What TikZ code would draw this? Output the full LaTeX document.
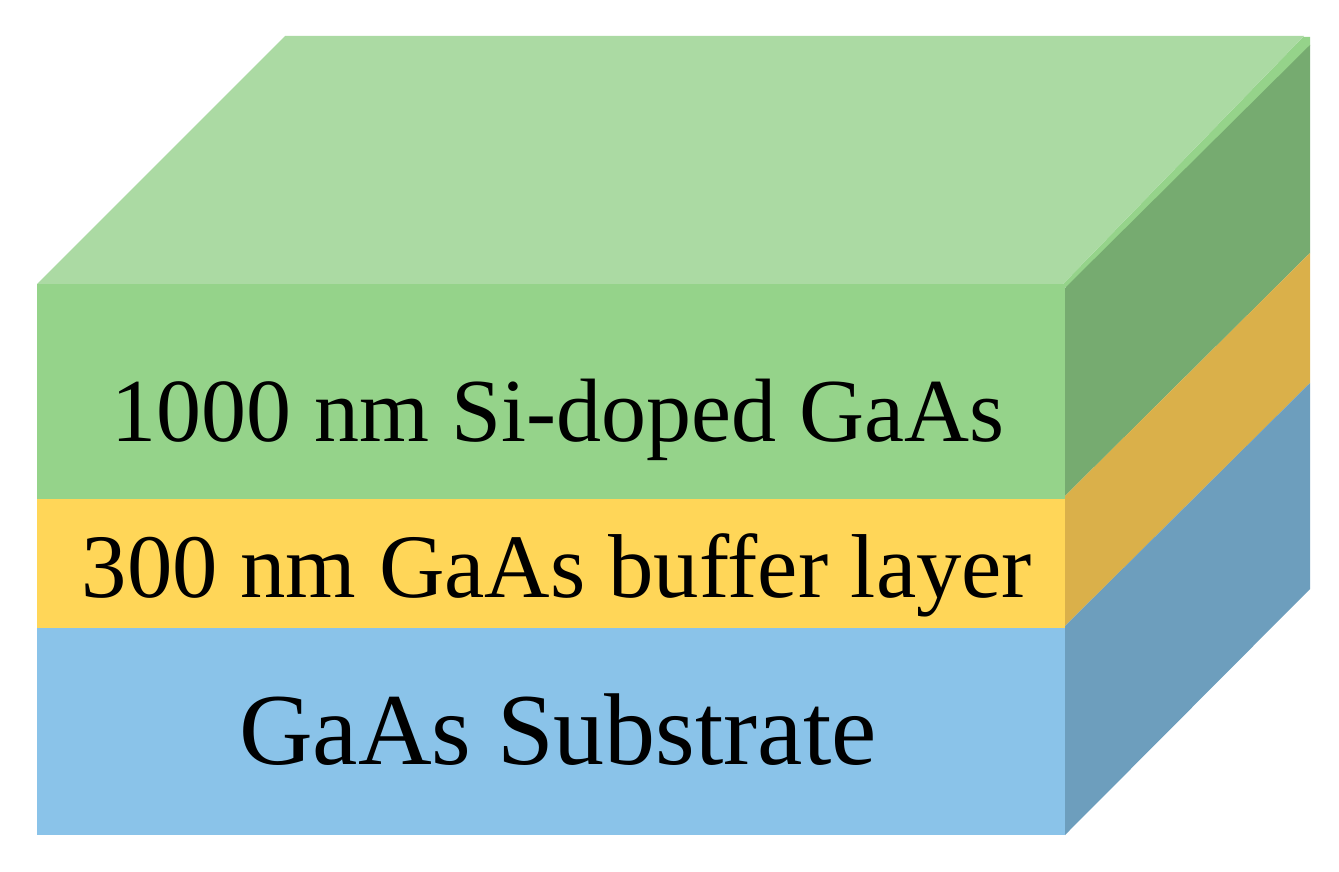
\documentclass[tikz,border=0pt]{standalone}
\usepackage{fontspec}
\setmainfont{Liberation Serif}
\definecolor{topg}{HTML}{ABDAA3}
\definecolor{frontg}{HTML}{95D38A}
\definecolor{sideg}{HTML}{76AB70}
\definecolor{fronty}{HTML}{FFD658}
\definecolor{sidey}{HTML}{DAB04A}
\definecolor{frontb}{HTML}{8AC3E9}
\definecolor{sideb}{HTML}{6D9EBD}
\tikzset{layerlabel/.style={inner sep=0pt,anchor=base,text=black},
  labela/.style={layerlabel,font=\fontsize{90}{90}\selectfont},
  labelb/.style={layerlabel,font=\fontsize{90.7}{91}\selectfont},
  labelc/.style={layerlabel,font=\fontsize{102}{102}\selectfont}}
\begin{document}
\begin{tikzpicture}[x=1pt,y=-1pt]
\useasboundingbox (0,0) rectangle (1339,872);
\fill[white] (0,0) rectangle (1339,872);
\fill[frontg] (1063,284) -- (1303,37) -- (1310,37) -- (1310,46) -- (1066,288) -- cycle;
\fill[topg] (37,284) -- (285,36) -- (1304,36) -- (1063,284) -- cycle;
\fill[sideg] (1065,288) -- (1310,45) -- (1310,253) -- (1065,496) -- cycle;
\fill[sidey] (1065,496) -- (1310,253) -- (1310,383) -- (1065,626) -- cycle;
\fill[sideb] (1065,626) -- (1310,383) -- (1310,589) -- (1065,835) -- cycle;
\fill[frontg] (37,284) rectangle (1065,499);
\fill[fronty] (37,499) rectangle (1065,628);
\fill[frontb] (37,628) rectangle (1065,835);
\node[labela] (a) at (558,441) {1000 nm Si-doped GaAs};
\node[labelb] (b) at (557,597) {300 nm GaAs buffer layer};
\node[labelc] (c) at (558,764) {GaAs Substrate};
\end{tikzpicture}
\end{document}
